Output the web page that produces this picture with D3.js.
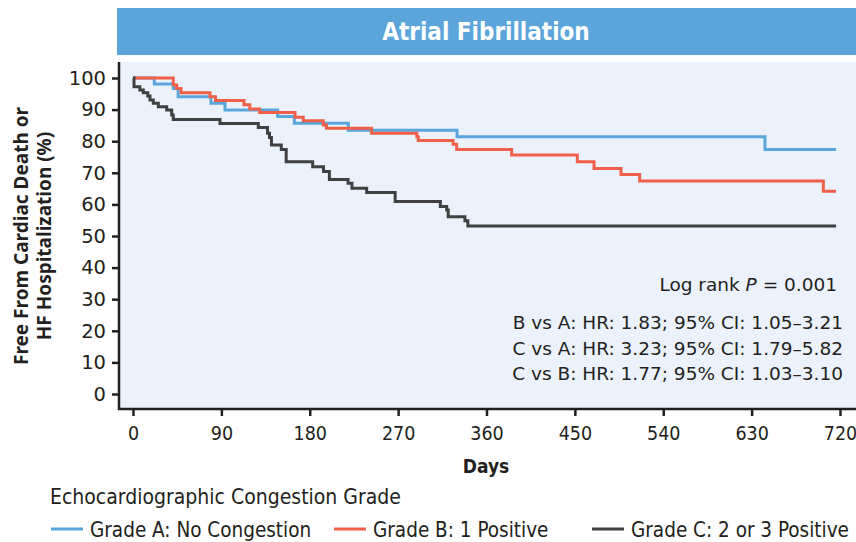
<!DOCTYPE html>
<html>
<head>
<meta charset="utf-8">
<script src="https://cdn.jsdelivr.net/npm/d3@7"></script>
<style>
  body { margin: 0; background: #fff; }
  .cond { font-family: "Liberation Sans Narrow", "DejaVu Sans Condensed", "Roboto", sans-serif; }
  .reg { font-family: "Noto Sans", "Open Sans", sans-serif; }
  .wide { font-family: "DejaVu Sans", "Noto Sans", sans-serif; }
</style>
</head>
<body>
<svg id="chart" width="856" height="542"></svg>
<script>
// Kaplan-Meier steps: [day, % free from event]
const gradeA = [[0, 100], [21.7, 98.1], [41, 96.7], [46, 94.1], [79.4, 92], [93.7, 89.9], [147.3, 87.8],
    [164.3, 85.7], [219.3, 83.5], [330, 81.4], [643.6, 77.4], [716, 77.4]];
const gradeB = [[0, 100], [41, 97.8], [44.5, 96.7], [49, 95.3], [78.4, 94.1], [84, 92.9], [113, 91.5],
    [119, 90.2], [129, 89.1], [165, 87.6], [173.4, 86.5], [193.8, 85.1], [197, 84.1], [243, 82.5],
    [289, 81.4], [290.5, 80.2], [326, 79], [329.6, 77.4], [385.6, 75.6], [452.5, 73.5], [469.5, 71.4],
    [497, 69.5], [516, 67.4], [703, 64.2], [716, 64.2]];
const gradeC = [[0, 100], [1, 97.2], [7, 96.2], [10.5, 95.3], [15, 94.3], [17.3, 93], [20.7, 92],
    [25.8, 90.9], [34.3, 89.9], [39.4, 88.3], [41, 86.9], [88.6, 85.6], [127.6, 84.3], [137, 82.5],
    [139, 81.2], [141, 78.8], [151, 77.4], [156, 73.5], [183, 71.9], [194, 70.4], [200, 67.9],
    [219, 66.7], [223, 65.1], [238, 63.8], [267, 60.9], [313, 59.3], [319.5, 58.2], [321, 56.1],
    [338, 54.8], [341, 53.2], [716, 53.2]];

const seriesNames = ["Grade A: No Congestion", "Grade B: 1 Positive", "Grade C: 2 or 3 Positive"];
const seriesColors = ["#5aa5db", "#f05f48", "#3f4042"];
const xTicks = [0, 90, 180, 270, 360, 450, 540, 630, 720];
const yTicks = [0, 10, 20, 30, 40, 50, 60, 70, 80, 90, 100];
const statLines = [
    "B vs A: HR: 1.83; 95% CI: 1.05\u20133.21",
    "C vs A: HR: 3.23; 95% CI: 1.79\u20135.82",
    "C vs B: HR: 1.77; 95% CI: 1.03\u20133.10"
];

const svg = d3.select("#chart");
const ink = "#231f20";

// banner
svg.append("rect")
    .attr("x", 117).attr("y", 8)
    .attr("width", 739).attr("height", 47)
    .attr("fill", "#5ca5da");
svg.append("text")
    .attr("class", "cond")
    .attr("x", 486).attr("y", 39.5)
    .attr("text-anchor", "middle")
    .attr("fill", "#fff")
    .attr("font-size", 24)
    .attr("font-weight", "bold")
    .text("Atrial Fibrillation");

// plot panel
svg.append("rect")
    .attr("x", 119).attr("y", 62)
    .attr("width", 737).attr("height", 347)
    .attr("fill", "#ebf2fb");

const xScale = d3.scaleLinear().domain([0, 720]).range([133, 840]);
const yScale = d3.scaleLinear().domain([0, 100]).range([394, 78]);

const yAxis = svg.append("g")
    .attr("transform", "translate(119,0)")
    .call(d3.axisLeft(yScale).tickValues(yTicks).tickSize(7).tickPadding(6));
yAxis.select(".domain").remove();
yAxis.selectAll("line").attr("stroke", ink).attr("stroke-width", 2.5);
yAxis.selectAll("text")
    .attr("class", "wide")
    .attr("font-size", 19.5)
    .attr("fill", ink);

const xAxis = svg.append("g")
    .attr("transform", "translate(0,409)")
    .call(d3.axisBottom(xScale).tickValues(xTicks).tickSize(7).tickPadding(10));
xAxis.select(".domain").remove();
xAxis.selectAll("line").attr("stroke", ink).attr("stroke-width", 2.5);
xAxis.selectAll("text")
    .attr("class", "cond")
    .attr("font-size", 19.5)
    .attr("fill", ink);

// axis lines
svg.append("path")
    .attr("d", "M119,62V409H856")
    .attr("fill", "none")
    .attr("stroke", ink)
    .attr("stroke-width", 2.5);

// curves
const line = d3.line()
    .x(d => xScale(d[0]))
    .y(d => yScale(d[1]))
    .curve(d3.curveStepAfter);

[gradeA, gradeB, gradeC].forEach((s, i) => {
    svg.append("path")
        .datum(s)
        .attr("d", line)
        .attr("fill", "none")
        .attr("stroke", seriesColors[i])
        .attr("stroke-width", 3);
});

// axis titles
svg.append("text")
    .attr("class", "cond")
    .attr("x", 486).attr("y", 473)
    .attr("text-anchor", "middle")
    .attr("font-size", 19)
    .attr("font-weight", "bold")
    .attr("fill", ink)
    .text("Days");

const yTitle = svg.append("text")
    .attr("class", "reg")
    .attr("transform", "translate(0,236) rotate(-90)")
    .attr("text-anchor", "middle")
    .attr("font-size", 19)
    .attr("font-weight", "bold")
    .attr("fill", ink);
yTitle.append("tspan").attr("x", 0).attr("y", 28).text("Free From Cardiac Death or");
yTitle.append("tspan").attr("x", 0).attr("y", 51).text("HF Hospitalization (%)");

// stats
const logRank = svg.append("text")
    .attr("class", "wide")
    .attr("x", 837).attr("y", 291)
    .attr("text-anchor", "end")
    .attr("font-size", 18.5)
    .attr("fill", ink);
logRank.append("tspan").text("Log rank ");
logRank.append("tspan").attr("font-style", "italic").text("P");
logRank.append("tspan").text(" = 0.001");

svg.selectAll(".stat")
    .data(statLines)
    .join("text")
    .attr("class", "wide stat")
    .attr("x", 843)
    .attr("y", (d, i) => 329 + i * 25.5)
    .attr("text-anchor", "end")
    .attr("font-size", 18.5)
    .attr("fill", ink)
    .text(d => d);

// legend
svg.append("text")
    .attr("class", "cond")
    .attr("x", 50).attr("y", 504)
    .attr("font-size", 21)
    .attr("fill", ink)
    .text("Echocardiographic Congestion Grade");

const legendX = [51, 334, 592];
const legendItems = svg.selectAll(".legend")
    .data(seriesNames)
    .join("g")
    .attr("class", "legend")
    .attr("transform", (d, i) => `translate(${legendX[i]},529)`);

legendItems.append("line")
    .attr("x1", 0).attr("x2", 32)
    .attr("stroke", (d, i) => seriesColors[i])
    .attr("stroke-width", 3);

legendItems.append("text")
    .attr("class", "cond")
    .attr("x", 39).attr("y", 7.5)
    .attr("font-size", 20.5)
    .attr("fill", ink)
    .text(d => d);
</script>
</body>
</html>
